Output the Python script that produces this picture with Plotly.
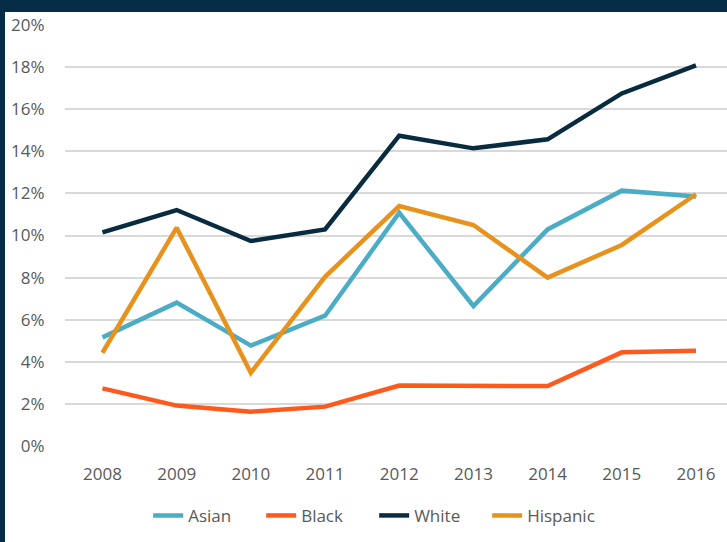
import plotly.graph_objects as go

years = ["2008", "2009", "2010", "2011", "2012", "2013", "2014", "2015", "2016"]
asian = [5.16, 6.81, 4.77, 6.19, 11.08, 6.65, 10.29, 12.13, 11.85]
black = [2.74, 1.92, 1.63, 1.87, 2.87, 2.85, 2.85, 4.45, 4.53]
white = [10.15, 11.21, 9.74, 10.29, 14.74, 14.14, 14.57, 16.75, 18.08]
hispanic = [4.43, 10.37, 3.48, 8.04, 11.40, 10.50, 8.00, 9.55, 11.96]
y_ticks = [0, 2, 4, 6, 8, 10, 12, 14, 16, 18, 20]
y_labels = [f"{v}%" for v in y_ticks]

series = [
    ("Asian", asian, "#4BACC6"),
    ("Black", black, "#FF5A1E"),
    ("White", white, "#082B40"),
    ("Hispanic", hispanic, "#E8921E"),
]

FONT = "Open Sans, Lato, sans-serif"

fig = go.Figure()
for name, vals, color in series:
    fig.add_trace(go.Scatter(
        x=years, y=vals, name=name, mode="lines",
        line=dict(color=color, width=4.5),
    ))

fig.update_layout(
    width=727, height=542,
    margin=dict(l=65, r=0, t=25, b=96),
    paper_bgcolor="white",
    plot_bgcolor="white",
    font=dict(family=FONT, size=17, color="#595959"),
    showlegend=True,
    legend=dict(
        orientation="h", x=0.467, xanchor="center", y=-0.166, yanchor="middle",
        font=dict(family=FONT, size=17, color="#595959"),
        itemwidth=30, tracegroupgap=0, entrywidth=68,
    ),
    xaxis=dict(
        type="category", range=[-0.505, 8.418],
        showgrid=False, zeroline=False, showline=False,
        ticks="outside", ticklen=13, tickcolor="rgba(0,0,0,0)",
        tickfont=dict(family=FONT, size=17, color="#595959"),
        fixedrange=True,
    ),
    yaxis=dict(
        range=[0, 20], tickvals=y_ticks, ticktext=y_labels,
        showgrid=True, gridcolor="#D9D9D9", gridwidth=1.5,
        zeroline=False, showline=False,
        ticks="outside", ticklen=16, tickcolor="rgba(0,0,0,0)",
        tickfont=dict(family=FONT, size=17, color="#595959"),
        fixedrange=True,
    ),
    shapes=[
        dict(type="rect", xref="paper", yref="paper",
             x0=-0.1, x1=1.01, y0=1.0309, y1=1.07,
             fillcolor="#052D47", line=dict(width=0), layer="above"),
        dict(type="rect", xref="paper", yref="paper",
             x0=-0.1, x1=-0.0906, y0=-0.3, y1=1.07,
             fillcolor="#052D47", line=dict(width=0), layer="above"),
    ],
)

fig.write_html(
    "out.html",
    config={"displayModeBar": False},
    post_script="document.body.style.margin='0';document.body.style.overflow='hidden';",
)
